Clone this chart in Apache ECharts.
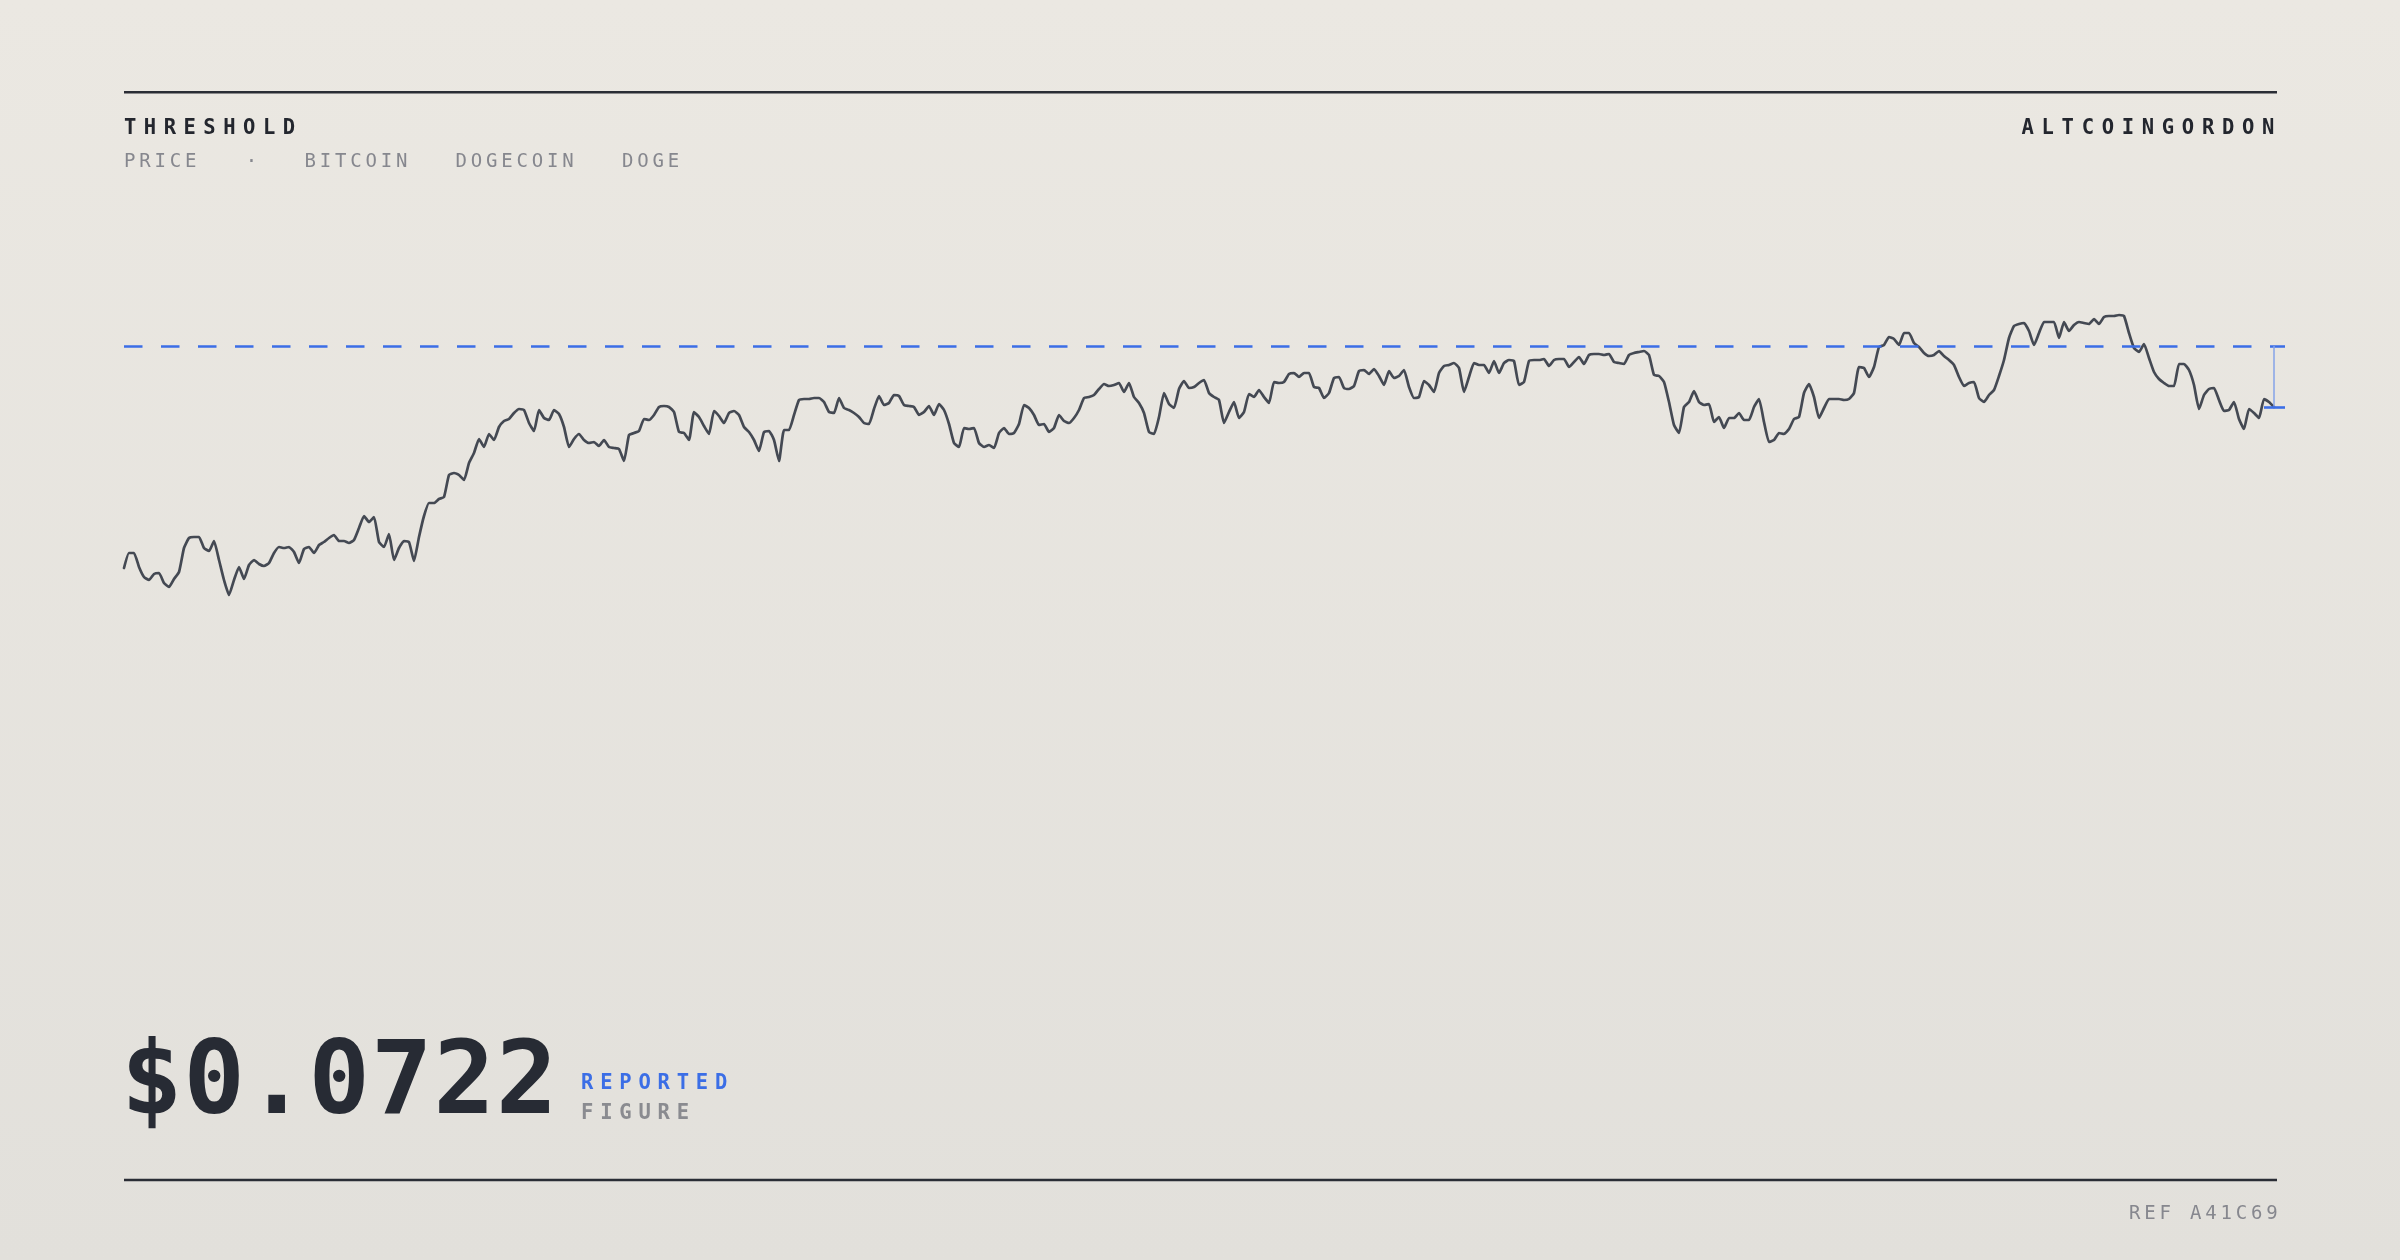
<!DOCTYPE html>
<html>
<head>
<meta charset="utf-8">
<title>Threshold — Dogecoin price</title>
<script src="https://cdn.jsdelivr.net/npm/echarts@6/dist/echarts.min.js"></script>
<style>
  html, body { margin: 0; padding: 0; background: #e7e5df; }
  #chart { width: 2400px; height: 1260px; }
</style>
</head>
<body>
<div id="chart"></div>
<script>
// ---------------- data ----------------
const TITLE = 'THRESHOLD';
const BRAND = 'ALTCOINGORDON';
const TAGS = ['PRICE', '·', 'BITCOIN', 'DOGECOIN', 'DOGE'];
const FIGURE_LABELS = ['REPORTED', 'FIGURE'];
const REF_CODE = 'REF A41C69';
const THRESHOLD = 0.0783;

// price series (USD), equally spaced observations
const PRICES = [
0.0561,0.0576,0.0576,0.0562,0.0552,0.0549,0.0555,0.0556,0.0546,0.0542,
0.0550,0.0557,0.0581,0.0591,0.0592,0.0592,0.0581,0.0578,0.0588,0.0569,
0.0549,0.0534,0.0549,0.0562,0.0550,0.0564,0.0569,0.0565,0.0563,0.0566,
0.0576,0.0582,0.0581,0.0582,0.0577,0.0566,0.0580,0.0582,0.0576,0.0584,
0.0587,0.0591,0.0594,0.0588,0.0588,0.0586,0.0589,0.0601,0.0613,0.0607,
0.0612,0.0587,0.0582,0.0595,0.0569,0.0581,0.0588,0.0587,0.0568,0.0592,
0.0613,0.0626,0.0626,0.0630,0.0632,0.0654,0.0656,0.0654,0.0649,0.0666,
0.0676,0.0690,0.0682,0.0695,
0.0689,0.0702,0.0708,0.0710,0.0716,0.0720,0.0719,0.0706,0.0698,0.0719,
0.0711,0.0709,0.0719,0.0715,0.0702,0.0682,0.0690,0.0695,0.0689,0.0686,
0.0687,0.0683,0.0689,0.0682,0.0681,0.0680,0.0668,0.0694,0.0696,0.0698,
0.0710,0.0709,0.0714,0.0722,0.0723,0.0722,0.0717,0.0697,0.0696,0.0689,
0.0717,0.0712,0.0703,0.0695,0.0718,0.0713,0.0706,0.0716,0.0718,0.0714,
0.0702,0.0697,0.0689,0.0678,0.0697,0.0698,0.0689,0.0668,0.0699,0.0699,
0.0714,0.0729,0.0730,0.0730,0.0731,0.0731,0.0727,0.0717,0.0716,0.0731,
0.0721,0.0719,
0.0716,0.0712,0.0706,0.0705,0.0720,0.0733,0.0724,0.0726,0.0734,0.0733,
0.0724,0.0723,0.0722,0.0714,0.0717,0.0723,0.0714,0.0725,0.0719,0.0705,
0.0686,0.0682,0.0701,0.0700,0.0701,0.0686,0.0682,0.0684,0.0681,0.0696,
0.0701,0.0695,0.0696,0.0705,0.0724,0.0721,0.0714,0.0704,0.0705,0.0697,
0.0701,0.0714,0.0708,0.0706,0.0711,0.0719,0.0731,0.0732,0.0734,0.0740,
0.0745,0.0743,0.0744,0.0746,0.0737,0.0746,0.0732,0.0726,0.0716,0.0697,
0.0695,0.0712,0.0736,0.0725,0.0721,0.0740,0.0748,0.0741,0.0742,0.0746,
0.0749,0.0736,
0.0732,0.0729,0.0706,0.0717,0.0727,0.0711,0.0717,0.0735,0.0732,0.0739,
0.0732,0.0726,0.0747,0.0746,0.0747,0.0755,0.0756,0.0752,0.0756,0.0756,
0.0742,0.0741,0.0731,0.0736,0.0751,0.0752,0.0741,0.0740,0.0743,0.0758,
0.0759,0.0755,0.0760,0.0753,0.0744,0.0758,0.0751,0.0753,0.0759,0.0742,
0.0731,0.0732,0.0748,0.0744,0.0737,0.0756,0.0763,0.0764,0.0766,0.0761,
0.0737,0.0752,0.0766,0.0764,0.0764,0.0756,0.0768,0.0756,0.0766,0.0769,
0.0768,0.0744,0.0747,0.0768,0.0769,0.0769,0.0770,0.0763,0.0769,0.0770,
0.0770,0.0762,
0.0767,0.0772,0.0765,0.0774,0.0775,0.0775,0.0774,0.0775,0.0767,0.0766,
0.0765,0.0774,0.0776,0.0777,0.0778,0.0774,0.0754,0.0753,0.0747,0.0727,
0.0704,0.0696,0.0722,0.0727,0.0738,0.0727,0.0724,0.0725,0.0707,0.0712,
0.0701,0.0711,0.0711,0.0716,0.0709,0.0709,0.0722,0.0730,0.0707,0.0687,
0.0689,0.0696,0.0695,0.0700,0.0710,0.0712,0.0736,0.0745,0.0732,0.0711,
0.0721,0.0730,0.0730,0.0730,0.0729,0.0730,0.0736,0.0762,0.0761,0.0752,
0.0762,0.0782,0.0784,0.0792,0.0790,0.0784,0.0796,0.0796,0.0786,0.0782,
0.0776,0.0773,
0.0774,0.0778,0.0773,0.0769,0.0764,0.0752,0.0743,0.0746,0.0747,0.0731,
0.0727,0.0734,0.0739,0.0753,0.0769,0.0791,0.0803,0.0805,0.0806,0.0798,
0.0784,0.0796,0.0807,0.0807,0.0807,0.0791,0.0807,0.0798,0.0804,0.0807,
0.0806,0.0805,0.0810,0.0805,0.0812,0.0813,0.0813,0.0814,0.0813,0.0796,
0.0781,0.0777,0.0785,0.0771,0.0757,0.0750,0.0746,0.0743,0.0743,0.0765,
0.0765,0.0759,0.0744,0.0720,0.0734,0.0740,0.0741,0.0729,0.0718,0.0719,
0.0727,0.0710,0.0700,0.0720,0.0716,0.0711,0.0730,0.0727,0.0722
];

// ---------------- style ----------------
const FONT = '"DejaVu Sans Mono", "Liberation Mono", monospace';
const INK = '#23262e';
const MUTED = '#86878e';
const BLUE = '#3b6ee6';

const lastIdx = PRICES.length - 1;
const last = PRICES[lastIdx];
const X_MAX = lastIdx + 2.2;
const BIG = '$' + last.toFixed(4);

// per-string tracking (letter spacing, px) applied when the canvas draws the text
const TRACKING = {
  'THRESHOLD': 7.5, 'ALTCOINGORDON': 7.7, 'REPORTED': 6.8, 'FIGURE': 6.8, 'REF A41C69': 3.8,
  'PRICE': 3.8, 'BITCOIN': 3.8, 'DOGECOIN': 3.8, 'DOGE': 3.8
};
TRACKING[BIG] = 1.1;
(function () {
  const proto = CanvasRenderingContext2D.prototype;
  const orig = proto.fillText;
  proto.fillText = function (t) {
    const ls = TRACKING[t];
    if (ls !== undefined && 'letterSpacing' in this) {
      const prev = this.letterSpacing;
      this.letterSpacing = ls + 'px';
      const r = orig.apply(this, arguments);
      this.letterSpacing = prev;
      return r;
    }
    return orig.apply(this, arguments);
  };
})();

function label(text, x, baseline, size, weight, color, extra) {
  return Object.assign({
    type: 'text', silent: true, x: x, y: baseline - 0.297 * size,
    style: {
      text: text, fill: color, font: weight + ' ' + size + 'px ' + FONT,
      align: 'left', verticalAlign: 'middle', textAlign: 'left', textVerticalAlign: 'middle'
    }
  }, extra || {});
}

const tagX = [124, 245.8, 304.5, 455.5, 622];

const graphics = [
  { type: 'line', silent: true, shape: { x1: 124, y1: 92.3, x2: 2277, y2: 92.3 }, style: { stroke: '#2a2d35', lineWidth: 2.6 } },
  { type: 'line', silent: true, shape: { x1: 124, y1: 1180, x2: 2277, y2: 1180 }, style: { stroke: '#2a2d35', lineWidth: 2.6 } },
  label(TITLE, 124, 134.3, 20.5, 'bold', INK),
  label(BRAND, 2021.5, 134.3, 20.5, 'bold', INK),
  label(BIG, 121, 1116.5, 102, 'bold', '#272b34'),
  label(FIGURE_LABELS[0], 581, 1090, 20.5, 'bold', BLUE),
  label(FIGURE_LABELS[1], 581, 1120, 20.5, 'bold', '#8a8b90'),
  label(REF_CODE, 2129, 1220, 19, 'normal', MUTED)
];
TAGS.forEach(function (t, i) { graphics.push(label(t, tagX[i], 167.3, 19, 'normal', MUTED)); });

const chart = echarts.init(document.getElementById('chart'), null, { renderer: 'canvas' });
chart.setOption({
  animation: false,
  backgroundColor: {
    type: 'linear', x: 0, y: 0, x2: 0, y2: 1,
    colorStops: [{ offset: 0, color: '#ebe8e2' }, { offset: 1, color: '#e2e0db' }]
  },
  grid: { left: 124, right: 115, top: 129, height: 800, containLabel: false },
  xAxis: { type: 'value', min: 0, max: X_MAX, show: false },
  yAxis: { type: 'value', min: 0.02, max: 0.1, show: false },
  graphic: graphics,
  series: [{
    type: 'line',
    data: PRICES.map(function (v, i) { return [i, v]; }),
    showSymbol: false,
    symbol: 'none',
    smooth: 0.15,
    lineStyle: { color: '#444953', width: 2.7, join: 'round', cap: 'round' },
    markLine: {
      silent: true, animation: false, symbol: ['none', 'none'],
      label: { show: false },
      emphasis: { disabled: true },
      data: [
        [{ coord: [0, THRESHOLD], lineStyle: { color: BLUE, width: 2.5, type: [18.5, 18.5] } }, { coord: [X_MAX, THRESHOLD] }],
        [{ coord: [lastIdx, THRESHOLD], lineStyle: { color: '#86a3e8', width: 1.5, type: 'solid' } }, { coord: [lastIdx, last] }],
        [{ coord: [lastIdx - 2, last], lineStyle: { color: BLUE, width: 2.6, type: 'solid' } }, { coord: [X_MAX, last] }]
      ]
    },
    z: 3
  }]
});
</script>
</body>
</html>
